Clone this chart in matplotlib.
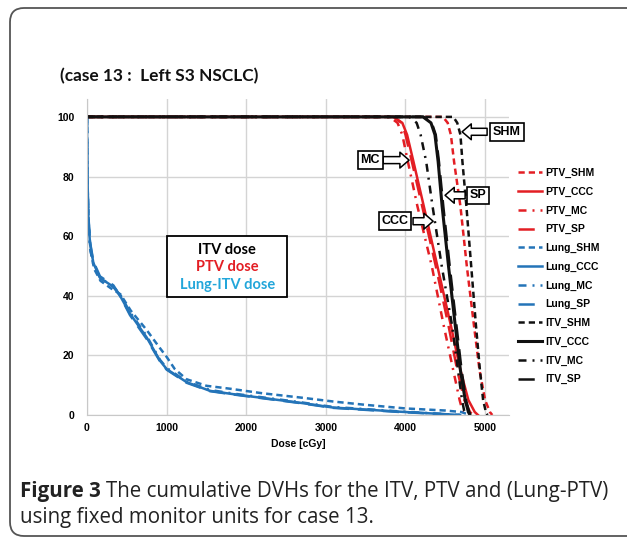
import matplotlib
matplotlib.use("Agg")
import matplotlib.pyplot as plt
from matplotlib.patches import FancyBboxPatch, Rectangle

# dose levels (cGy) for ITV / PTV curves at shared volume levels (%)
pct_target = [100, 100, 98, 94, 85, 70, 50, 30, 15, 5, 1, 0]
ptv_shm = [0, 4470, 4530, 4570, 4610, 4690, 4770, 4860, 4930, 5000, 5060, 5090]
ptv_ccc = [0, 3850, 3960, 4020, 4100, 4230, 4400, 4570, 4690, 4790, 4870, 4910]
ptv_mc = [0, 3800, 3900, 3960, 4030, 4150, 4330, 4480, 4600, 4680, 4720, 4740]
ptv_sp = [0, 3850, 3950, 4000, 4080, 4210, 4380, 4540, 4650, 4740, 4810, 4850]
itv_shm = [0, 4600, 4650, 4690, 4715, 4765, 4825, 4885, 4935, 4975, 5010, 5030]
itv_ccc = [0, 4220, 4320, 4370, 4410, 4460, 4540, 4625, 4690, 4750, 4790, 4810]
itv_mc = [0, 4050, 4140, 4190, 4260, 4340, 4455, 4585, 4660, 4710, 4740, 4760]
itv_sp = [0, 4230, 4330, 4380, 4420, 4475, 4555, 4640, 4705, 4760, 4800, 4820]

# lung-ITV curves
lung_dose = [0, 4, 17, 38, 80, 163, 331, 415, 540, 750, 917, 1001, 1252, 1545, 1834, 2676, 3090, 3932, 4686]
lung_ccc = [100, 80, 66, 57.5, 51, 46, 43, 40, 34, 26, 18.2, 15.4, 11, 8.1, 7.0, 4.1, 2.5, 1.1, 0]
lung_mc = [100, 79, 65, 56, 50.5, 46, 43, 40.5, 34.5, 26.5, 18.5, 15.8, 11.2, 8.4, 7.2, 4.3, 2.7, 1.2, 0]
lung_sp = [100, 81, 67, 58, 51.5, 46.5, 43.5, 40, 33.5, 25.5, 18, 15.2, 10.8, 8.0, 6.9, 4.0, 2.4, 1.0, 0]
lung_shm_dose = [0, 5, 20, 45, 90, 170, 300, 420, 550, 750, 900, 1000, 1100, 1250, 1500, 1800, 2200, 2700, 3100, 3500, 4000, 4500, 4700, 4810]
lung_shm = [100, 80, 65, 55, 49, 45, 42.5, 40.5, 35, 28.5, 23, 19.5, 15.5, 12, 9.8, 8.8, 7.3, 5.8, 4.5, 3.4, 2.2, 1.5, 1.0, 0]

dose_labels = ['ITV dose', 'PTV dose', 'Lung-ITV dose']

red = '#e31e24'
blue = '#2474b8'
black = '#111111'
cyan = '#22a6da'
lw = 1.8
ls_shm = (0, (2.5, 1.6))
ls_mc = (0, (3.2, 2.4, 0.8, 2.4))
ls_sp = (0, (6.5, 3.5))

fig = plt.figure(figsize=(6.27, 5.4), dpi=100)

# background frame, title and caption in pixel coordinates
bg = fig.add_axes([0, 0, 1, 1], zorder=-1)
bg.set_xlim(0, 627)
bg.set_ylim(540, 0)
bg.axis('off')
bg.add_patch(FancyBboxPatch((10, 8), 650, 528, boxstyle='round,pad=0,rounding_size=14',
                            fc='white', ec='#555555', lw=1.3))
bg.text(60, 76, '(case 13 :  Left S3 NSCLC)', fontsize=12.4, fontweight='bold',
        family='Lato', va='center', ha='left', color='#111111')

cap1 = bg.text(20, 492, 'Figure 3', fontsize=14.8, fontweight='bold', family='Open Sans',
               va='center', ha='left', color='#222222')
fig.canvas.draw()
ext = cap1.get_window_extent(fig.canvas.get_renderer())
bg.text(ext.x1 + 5, 492, 'The cumulative DVHs for the ITV, PTV and (Lung-PTV)', fontsize=14.8,
        family='Open Sans', va='center', ha='left', color='#222222')
bg.text(20, 518, 'using fixed monitor units for case 13.', fontsize=14.8,
        family='Open Sans', va='center', ha='left', color='#222222')

ax = fig.add_axes([87 / 627, 1 - 415 / 540, 422 / 627, 316 / 540])
ax.set_facecolor('none')

ax.plot(ptv_shm, pct_target, color=red, lw=lw, ls=ls_shm, label='PTV_SHM')
ax.plot(ptv_ccc, pct_target, color=red, lw=lw, ls='-', label='PTV_CCC')
ax.plot(ptv_mc, pct_target, color=red, lw=lw, ls=ls_mc, label='PTV_MC')
ax.plot(ptv_sp, pct_target, color=red, lw=lw, ls=ls_sp, label='PTV_SP')
ax.plot(lung_shm_dose, lung_shm, color=blue, lw=lw, ls=ls_shm, label='Lung_SHM')
ax.plot(lung_dose, lung_ccc, color=blue, lw=lw, ls='-', label='Lung_CCC')
ax.plot(lung_dose, lung_mc, color=blue, lw=lw, ls=ls_mc, label='Lung_MC')
ax.plot(lung_dose, lung_sp, color=blue, lw=lw, ls=ls_sp, label='Lung_SP')
ax.plot(itv_shm, pct_target, color=black, lw=lw, ls=ls_shm, label='ITV_SHM')
ax.plot(itv_ccc, pct_target, color=black, lw=2.2, ls='-', label='ITV_CCC')
ax.plot(itv_mc, pct_target, color=black, lw=lw, ls=ls_mc, label='ITV_MC')
ax.plot(itv_sp, pct_target, color=black, lw=lw, ls=ls_sp, label='ITV_SP')

ax.set_xlim(0, 5300)
ax.set_ylim(0, 106)
ax.set_xticks([0, 1000, 2000, 3000, 4000, 5000])
ax.set_yticks([0, 20, 40, 60, 80, 100])
ax.grid(True, color='#d4d4d4', lw=1)
ax.set_axisbelow(True)
for s in ['top', 'right']:
    ax.spines[s].set_visible(False)
for s in ['left', 'bottom']:
    ax.spines[s].set_color('#c8c8c8')
ax.tick_params(length=0)
ax.tick_params(axis='y', pad=9)
ax.tick_params(axis='x', pad=6)
for t in ax.get_xticklabels() + ax.get_yticklabels():
    t.set_fontfamily('Liberation Sans')
    t.set_fontweight('bold')
    t.set_fontsize(7.5)
ax.set_xlabel('Dose [cGy]', fontsize=7.5, fontweight='bold', family='Liberation Sans', labelpad=4)

leg = ax.legend(loc='upper left', bbox_to_anchor=(518 / 627, 1 - 168 / 540), bbox_transform=fig.transFigure,
                frameon=False, borderpad=0, borderaxespad=0, handlelength=2.3, handletextpad=0.3,
                labelspacing=0.83, prop={'family': 'Liberation Sans', 'weight': 'bold', 'size': 7.5})

# dose legend box
ax.add_patch(Rectangle((1005, 39.7), 1508, 20.2, fc='white', ec='black', lw=1.3, zorder=4))
for label, col, yy in zip(dose_labels, ['black', red, cyan], [55.4, 49.6, 43.6]):
    ax.text(1760, yy, label, color=col, ha='center', va='center', fontsize=10.5,
            fontweight='bold', family='Lato', zorder=5)

# labelled arrows
arrows = [
    ('SHM', 5276, 95, 5025, 4711),
    ('MC', 3555, 85.5, 3719, 4045),
    ('SP', 4912, 73.7, 4749, 4497),
    ('CCC', 3869, 65, 4095, 4347),
]
for name, bx, by, x0, x1 in arrows:
    ax.annotate('', xy=(x1, by), xytext=(x0, by), annotation_clip=False,
                arrowprops=dict(arrowstyle='simple,head_length=0.55,head_width=0.95,tail_width=0.42',
                                mutation_scale=12, fc='white', ec='black', lw=1.1,
                                shrinkA=0, shrinkB=0))
    ax.text(bx, by, name, ha='center', va='center', fontsize=9, fontweight='bold',
            family='Liberation Sans', clip_on=False, zorder=5,
            bbox=dict(boxstyle='square,pad=0.22', fc='white', ec='black', lw=1.2))

fig.savefig('out.png', dpi=100)
